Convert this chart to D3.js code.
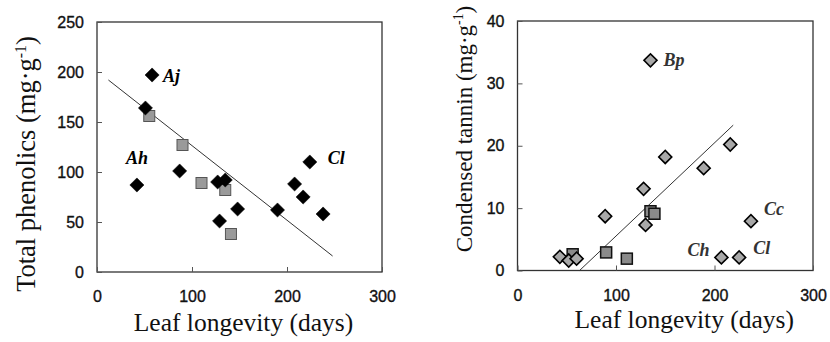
<!DOCTYPE html>
<html>
<head>
<meta charset="utf-8">
<script src="https://cdn.jsdelivr.net/npm/d3@7"></script>
<style>
  body{margin:0;background:#fff}
  svg{display:block}
  .tick text{font-family:"Liberation Sans",Arial,sans-serif;font-size:16px;fill:#111;stroke:#111;stroke-width:0.35}
  .title{font-family:"Liberation Serif","Times New Roman",serif;fill:#111}
  .sp{font-family:"Liberation Serif","Times New Roman",serif;font-style:italic;font-weight:bold;font-size:18px}
</style>
</head>
<body>
<svg id="chart" width="830" height="342"></svg>
<script>
// left panel: total phenolics
const phenDiamond = [
  {d:58,v:197,lab:'Aj'},{d:51,v:164},{d:42,v:87,lab:'Ah'},{d:87,v:101},
  {d:127,v:90},{d:135,v:92},{d:129,v:51},{d:148,v:63},{d:190,v:62},
  {d:208,v:88},{d:224,v:110,lab:'Cl'},{d:217,v:75},{d:238,v:58}
]
const phenSquare = [
  {d:55,v:156},{d:90,v:127},{d:110,v:89},{d:135,v:82},{d:141,v:38}
]
const phenLine = [{d:12,v:192},{d:248,v:16}]

// right panel: condensed tannin
const tanDiamond = [
  {d:135,v:33.7,lab:'Bp'},{d:150,v:18.2},{d:216,v:20.2},{d:189,v:16.4},
  {d:128,v:13.1},{d:89,v:8.7},{d:130,v:7.3},{d:237,v:7.9,lab:'Cc'},
  {d:207,v:2.1,lab:'Ch'},{d:225,v:2.1,lab:'Cl'},{d:43,v:2.2},{d:52,v:1.6},{d:60,v:1.9}
]
const tanSquare = [
  {d:56,v:2.6},{d:90,v:2.9},{d:111,v:1.9},{d:135,v:9.5},{d:139,v:9.1}
]
const tanLine = [{d:63,v:0},{d:219,v:23.3}]

const phenTicks = [0,50,100,150,200,250]
const tanTicks = [0,10,20,30,40]
const dayTicks = [0,100,200,300]

// label offsets for species names
const labOff = {
  left:{Aj:[11,7],Ah:[-11,-21],Cl:[18,2]},
  right:{Bp:[13,6],Cc:[13,-6],Ch:[-34,-1],Cl:[14,-3]}
}

const svg = d3.select('#chart')

function panel(opt){
  const x = d3.scaleLinear().domain([0,300]).range(opt.xr)
  const y = d3.scaleLinear().domain(opt.yd).range(opt.yr)
  const g = svg.append('g')

  // frame
  g.append('rect')
    .attr('x',opt.xr[0]).attr('y',opt.yr[1])
    .attr('width',opt.xr[1]-opt.xr[0]).attr('height',opt.yr[0]-opt.yr[1])
    .attr('fill','none').attr('stroke','#333').attr('stroke-width',1.3)

  g.append('g')
    .attr('transform','translate('+opt.xr[0]+',0)')
    .call(d3.axisLeft(y).tickValues(opt.yt).tickSize(-5).tickPadding(13))
    .call(a=>a.select('.domain').remove())
    .call(a=>a.selectAll('line').attr('stroke','#555'))
  g.append('g')
    .attr('transform','translate(0,'+opt.yr[0]+')')
    .call(d3.axisBottom(x).tickValues(dayTicks).tickSize(-5).tickPadding(19))
    .call(a=>a.select('.domain').remove())
    .call(a=>a.selectAll('line').attr('stroke','#555'))

  // regression line
  g.append('path')
    .datum(opt.line)
    .attr('d',d3.line().x(d=>x(d.d)).y(d=>y(d.v)))
    .attr('stroke','#333').attr('stroke-width',1).attr('fill','none')

  const sq = 11
  g.selectAll('.sq').data(opt.squares).enter().append('rect')
    .attr('class','sq')
    .attr('x',d=>x(d.d)-sq/2).attr('y',d=>y(d.v)-sq/2)
    .attr('width',sq).attr('height',sq)
    .attr('fill',opt.sqFill).attr('stroke',opt.sqStroke).attr('stroke-width',opt.sqSw)

  const sym = d3.symbol().type(d3.symbolSquare).size(opt.dSize)
  g.selectAll('.dm').data(opt.diamonds).enter().append('path')
    .attr('class','dm')
    .attr('d',sym)
    .attr('transform',d=>'translate('+x(d.d)+','+y(d.v)+') rotate(45)')
    .attr('fill',opt.dFill).attr('stroke','#000').attr('stroke-width',opt.dSw)

  g.selectAll('.sp').data(opt.diamonds.filter(d=>d.lab)).enter().append('text')
    .attr('class','sp')
    .attr('x',d=>x(d.d)+opt.off[d.lab][0])
    .attr('y',d=>y(d.v)+opt.off[d.lab][1])
    .attr('fill',opt.labFill)
    .text(d=>d.lab)

  // axis titles
  const yt = g.append('text').attr('class','title')
    .style('font-size',opt.ytSize+'px')
    .attr('transform','translate('+opt.ytX+','+opt.ytY+') rotate(-90)')
    .attr('text-anchor','middle')
  yt.append('tspan').text(opt.ytitle+' (mg·g')
  yt.append('tspan').style('font-size',(opt.ytSize*0.6)+'px').attr('dy',-9).text('-1')
  yt.append('tspan').attr('dy',9).text(')')

  g.append('text').attr('class','title')
    .style('font-size','25.5px')
    .attr('x',(opt.xr[0]+opt.xr[1])/2+opt.xtDx).attr('y',opt.xtY)
    .attr('text-anchor','middle')
    .text('Leaf longevity (days)')
}

panel({
  xr:[97,382], yd:[0,250], yr:[272,22], yt:phenTicks,
  diamonds:phenDiamond, squares:phenSquare, line:phenLine,
  dFill:'#000', dSw:0.5, dSize:100,
  sqFill:'#9a9a9a', sqStroke:'#555', sqSw:1,
  off:labOff.left, labFill:'#000',
  ytitle:'Total phenolics', ytX:35, ytY:164, ytSize:26.5, xtDx:4, xtY:331
})
panel({
  xr:[517.5,813], yd:[0,40], yr:[270.5,21], yt:tanTicks,
  diamonds:tanDiamond, squares:tanSquare, line:tanLine,
  dFill:'#a8a8a8', dSw:1.6, dSize:85,
  sqFill:'#8a8a8a', sqStroke:'#111', sqSw:1.5,
  off:labOff.right, labFill:'#333',
  ytitle:'Condensed tannin', ytX:472, ytY:129, ytSize:23, xtDx:19, xtY:328
})
</script>
</body>
</html>
